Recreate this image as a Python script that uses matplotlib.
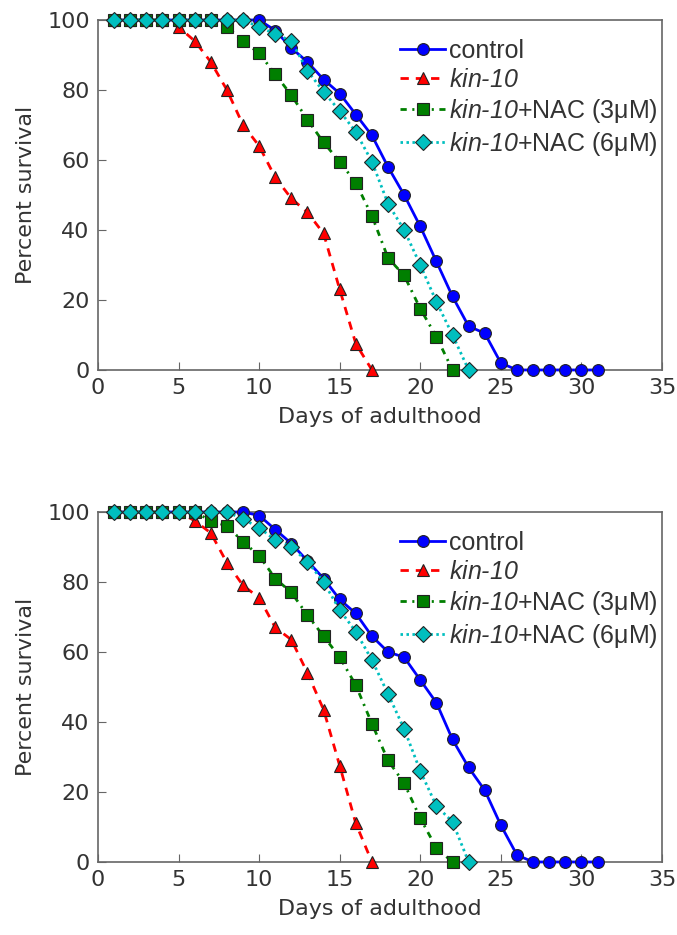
import numpy as np
from matplotlib import pyplot as plt

days = np.arange(1, 32)

# top panel
top_control = [100, 100, 100, 100, 100, 100, 100, 100, 100, 100, 97, 92, 88, 83, 79, 73,
               67, 58, 50, 41, 31, 21, 12.5, 10.5, 2, 0, 0, 0, 0, 0, 0]
top_kin10 = [100, 100, 100, 100, 98, 94, 88, 80, 70, 64, 55, 49, 45, 39, 23, 7.5, 0]
top_nac3 = [100, 100, 100, 100, 100, 100, 100, 98, 94, 90.5, 84.5, 78.5, 71.5, 65, 59.5,
            53.5, 44, 32, 27, 17.5, 9.5, 0]
top_nac6 = [100, 100, 100, 100, 100, 100, 100, 100, 100, 98, 96, 94, 85.5, 79.5, 74, 68,
            59.5, 47.5, 40, 30, 19.5, 10, 0]

# bottom panel
bot_control = [100, 100, 100, 100, 100, 100, 100, 100, 100, 99, 95, 91, 86, 81, 75, 71,
               64.5, 60, 58.5, 52, 45.5, 35, 27, 20.5, 10.5, 2, 0, 0, 0, 0, 0]
bot_kin10 = [100, 100, 100, 100, 100, 97.5, 94, 85.5, 79, 75.5, 67, 63.5, 54, 43.5, 27.5, 11, 0]
bot_nac3 = [100, 100, 100, 100, 100, 100, 97.5, 96, 91.5, 87.5, 81, 77, 70.5, 64.5, 58.5,
            50.5, 39.5, 29, 22.5, 12.5, 4, 0]
bot_nac6 = [100, 100, 100, 100, 100, 100, 100, 100, 98, 95.5, 92, 90, 85.8, 80, 72, 65.8,
            57.7, 48, 38, 26, 16, 11.5, 0]

# \mathsf is mapped to the italic face below, so "kin-10" comes out fully italic
labels = ['control', '$\\mathsf{kin\u201010}$', '$\\mathsf{kin\u201010}$+NAC (3μM)',
          '$\\mathsf{kin\u201010}$+NAC (6μM)']

text_col = '#333333'
spine_col = '#666666'

plt.rcParams['font.family'] = 'DejaVu Sans'
plt.rcParams['font.size'] = 16
plt.rcParams['mathtext.fontset'] = 'custom'
plt.rcParams['mathtext.sf'] = 'Liberation Sans:italic'
plt.rcParams['mathtext.rm'] = 'Liberation Sans'
# old-style (unscaled) dash patterns
plt.rcParams['lines.scale_dashes'] = False

fig = plt.figure(figsize=(6.77, 9.35), dpi=100)


def panel(rect, control, kin10, nac3, nac6):
    ax = fig.add_axes(rect)
    kw = dict(clip_on=False, zorder=3, markeredgecolor='#222222', markeredgewidth=0.8, lw=2.0)
    ax.plot(days[:len(control)], control, '-o', color='#0000ff', ms=8.5, label=labels[0], **kw)
    ax.plot(days[:len(kin10)], kin10, '--^', color='#ff0000', ms=8.5, dashes=(6, 5),
            label=labels[1], **kw)
    ax.plot(days[:len(nac3)], nac3, '-.s', color='#007f00', ms=8, dashes=(4.5, 4, 1.5, 4),
            label=labels[2], **kw)
    ax.plot(days[:len(nac6)], nac6, ':D', color='#00bfbf', ms=8.5, dashes=(1.8, 2.5),
            label=labels[3], **kw)
    ax.set_xlim(0, 35)
    ax.set_ylim(0, 100)
    ax.set_xticks(range(0, 36, 5))
    ax.set_yticks(range(0, 101, 20))
    ax.tick_params(direction='in', length=6, color=spine_col, labelcolor=text_col,
                   labelsize=16, pad=6)
    for s in ax.spines.values():
        s.set_color(spine_col)
        s.set_linewidth(1.2)
    ax.set_xlabel('Days of adulthood', color=text_col, fontsize=16, labelpad=6)
    ax.set_ylabel('Percent survival', color=text_col, fontsize=16, labelpad=8)
    leg = ax.legend(loc='upper right', bbox_to_anchor=(1.01, 0.975), frameon=False,
                    prop={'family': 'Liberation Sans', 'size': 18},
                    handlelength=1.8, handletextpad=0.15, labelspacing=0.2,
                    borderaxespad=0.0)
    for t in leg.get_texts():
        t.set_color(text_col)
    return ax


panel([0.1448, 0.6043, 0.833, 0.3743], top_control, top_kin10, top_nac3, top_nac6)
panel([0.1448, 0.0781, 0.833, 0.3743], bot_control, bot_kin10, bot_nac3, bot_nac6)

fig.savefig('out.png', dpi=100)
